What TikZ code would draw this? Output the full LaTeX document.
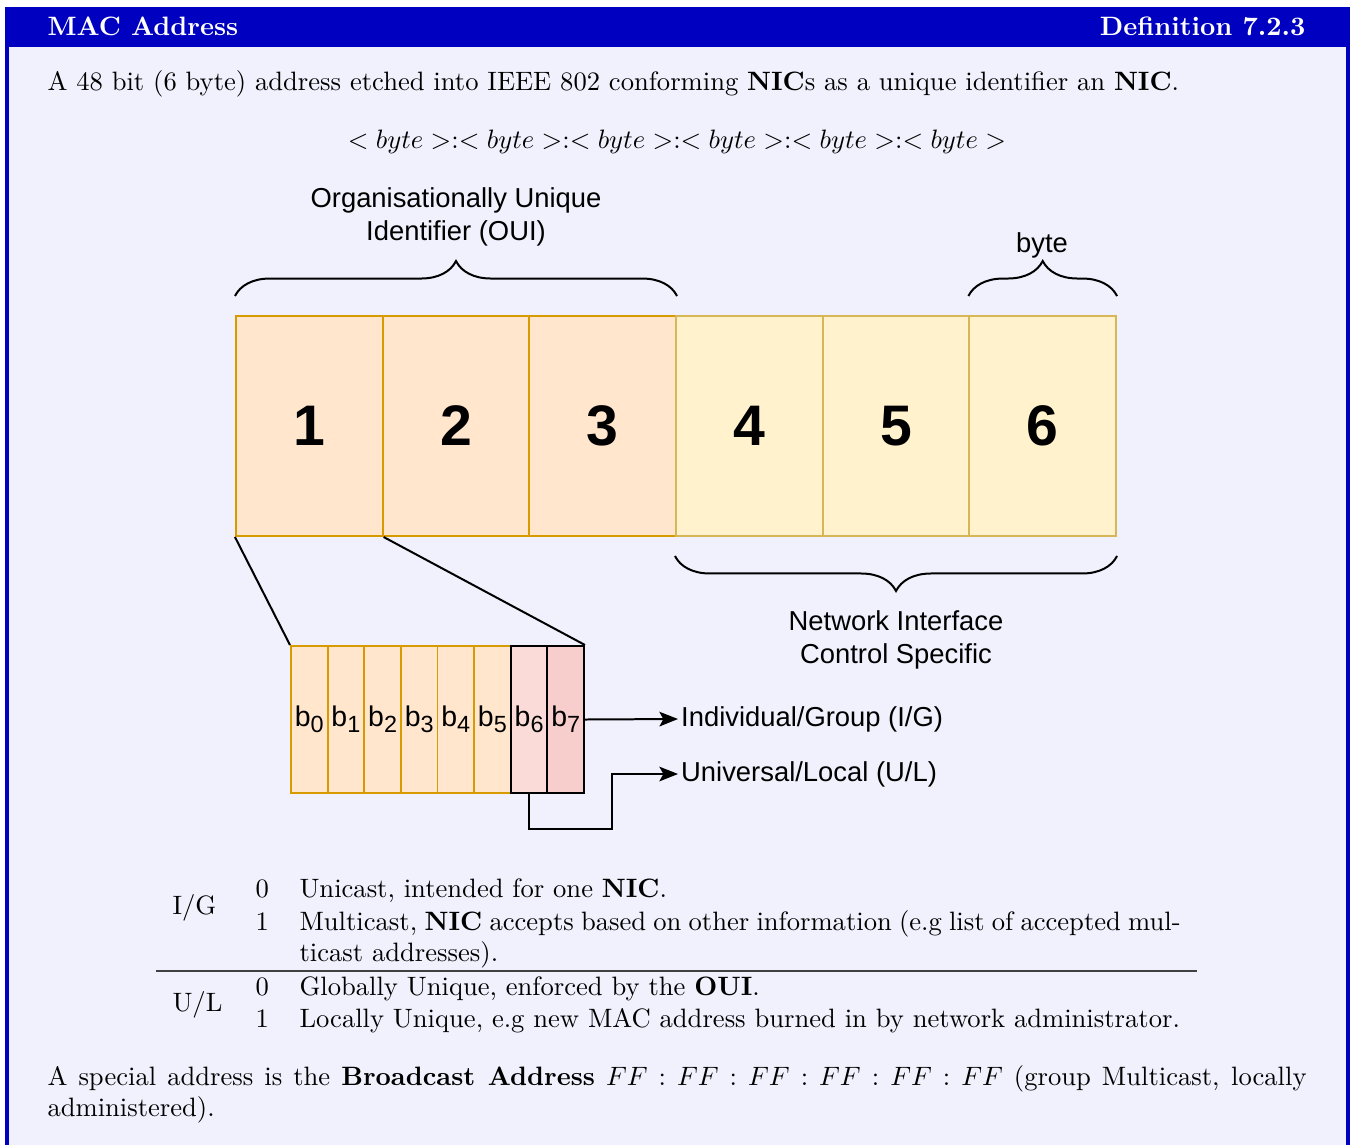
\documentclass[tikz,border=0pt]{standalone}
\usepackage{amsmath,amssymb}
\usepackage{fontspec}
\newfontfamily\drawfont{Liberation Sans}
\usetikzlibrary{arrows.meta,decorations.pathreplacing}

\definecolor{framebg}{RGB}{0,0,192}
\definecolor{boxbg}{RGB}{241,241,253}
\definecolor{ouifill}{HTML}{FFE6CC}
\definecolor{ouidraw}{HTML}{D79B00}
\definecolor{nicfill}{HTML}{FFF2CC}
\definecolor{nicdraw}{HTML}{D6B656}
\definecolor{ulfill}{HTML}{FADBD7}
\definecolor{igfill}{HTML}{F8CECC}

\newcommand{\bitname}[1]{b\raisebox{-0.4ex}{\fontsize{8.8}{9}\selectfont #1}}

\begin{document}
\begin{tikzpicture}[x=0.376pt, y=-0.376pt,
  bytebox/.style={draw, line width=0.75pt, minimum width=55.15pt, minimum height=82.72pt, inner sep=0pt, font=\drawfont\bfseries\fontsize{21.5}{26}\selectfont},
  bitbox/.style={draw, line width=0.75pt, minimum width=13.77pt, minimum height=55.27pt, inner sep=0pt, font=\drawfont\fontsize{10.7}{13}\selectfont},
  drawlabel/.style={align=center, inner sep=0pt, font=\drawfont\fontsize{10.3}{12.4}\selectfont},
  bracedeco/.style={decorate, decoration={brace, amplitude=13.16pt}, line width=0.75pt},
  arrowline/.style={line width=0.75pt, -{Stealth[length=7pt, width=5.5pt, inset=1.5pt]}},
  plaintext/.style={anchor=base west, inner sep=0pt}]
\useasboundingbox (0,0) rectangle (1350,1145);

% frame of the definition box
\fill[framebg] (5,7) rectangle (1350,1145);
\fill[boxbg] (9,47) rectangle (1346,1145);
\path (47,35) node[plaintext, text=white, font=\bfseries] (title) {MAC Address};
\path (1306,35) node[anchor=base east, inner sep=0pt, text=white, font=\bfseries] (defnum) {Definition 7.2.3};

\path (47,90) node[plaintext] (intro) {A 48 bit (6 byte) address etched into IEEE 802 conforming \textbf{NIC}s as a unique identifier an \textbf{NIC}.};
\path (677,148) node[anchor=base, inner sep=0pt] (macform) {$<byte>:<byte>:<byte>:<byte>:<byte>:<byte>$};

% the six bytes
\path (309.3,426) node[bytebox, fill=ouifill, draw=ouidraw] (byte1) {1};
\path (456,426) node[bytebox, fill=ouifill, draw=ouidraw] (byte2) {2};
\path (602.7,426) node[bytebox, fill=ouifill, draw=ouidraw] (byte3) {3};
\path (749.3,426) node[bytebox, fill=nicfill, draw=nicdraw] (byte4) {4};
\path (896,426) node[bytebox, fill=nicfill, draw=nicdraw] (byte5) {5};
\path (1042.7,426) node[bytebox, fill=nicfill, draw=nicdraw] (byte6) {6};

\draw[bracedeco] ([yshift=7.14pt]byte1.north west) -- ([yshift=7.14pt]byte3.north east);
\draw[bracedeco] ([yshift=7.14pt]byte6.north west) -- ([yshift=7.14pt]byte6.north east);
\draw[bracedeco] ([yshift=-7.14pt]byte6.south east) -- ([yshift=-7.14pt]byte4.south west);
\path (456,217) node[drawlabel] (ouilabel) {Organisationally Unique\\Identifier (OUI)};
\path (1042,245) node[drawlabel] (bytelabel) {byte};
\path (896,640) node[drawlabel] (niclabel) {Network Interface\\Control Specific};

% the bits of the first byte
\path (309.3,719.5) node[bitbox, fill=ouifill, draw=ouidraw] (bit0) {\bitname{0}};
\path (345.9,719.5) node[bitbox, fill=ouifill, draw=ouidraw] (bit1) {\bitname{1}};
\path (382.6,719.5) node[bitbox, fill=ouifill, draw=ouidraw] (bit2) {\bitname{2}};
\path (419.2,719.5) node[bitbox, fill=ouifill, draw=ouidraw] (bit3) {\bitname{3}};
\path (455.8,719.5) node[bitbox, fill=ouifill, draw=ouidraw] (bit4) {\bitname{4}};
\path (492.4,719.5) node[bitbox, fill=ouifill, draw=ouidraw] (bit5) {\bitname{5}};
\path (529.1,719.5) node[bitbox, fill=ulfill, draw=black] (bit6) {\bitname{6}};
\path (565.7,719.5) node[bitbox, fill=igfill, draw=black] (bit7) {\bitname{7}};

\draw[line width=0.75pt] (byte1.south west) -- (bit0.north west);
\draw[line width=0.75pt] (byte1.south east) -- (bit7.north east);

\path (678,719) node[drawlabel, anchor=west, inner sep=1pt] (iglabel) {Individual/Group (I/G)};
\path (678,774) node[drawlabel, anchor=west, inner sep=1pt] (ullabel) {Universal/Local (U/L)};
\coordinate (ulbend) at (612,829);
\draw[arrowline] (bit7.east) -- (iglabel.west);
\draw[arrowline] (bit6.south) |- (ulbend) |- (ullabel.west);

% table of the two flag bits
\path (172,914) node[plaintext] (igkey) {I/G};
\path (255,897) node[plaintext] (ig0) {0};
\path (299,897) node[plaintext] (ig0text) {Unicast, intended for one \textbf{NIC}.};
\path (255,930) node[plaintext] (ig1) {1};
\path (299,930) node[plaintext, text width=331.3pt, align=justify] (ig1text) {Multicast, \textbf{NIC} accepts based on other information (e.g list of accepted mul-\linebreak ticast addresses).};
\draw[line width=0.5pt, black!75] (156,971) -- (1197,971);
\path (172,1011) node[plaintext] (ulkey) {U/L};
\path (255,995) node[plaintext] (ul0) {0};
\path (299,995) node[plaintext] (ul0text) {Globally Unique, enforced by the \textbf{OUI}.};
\path (255,1027) node[plaintext] (ul1) {1};
\path (299,1027) node[plaintext] (ul1text) {Locally Unique, e.g new MAC address burned in by network administrator.};

\path (47,1085) node[plaintext, text width=473.4pt, align=justify] (broadcast) {A special address is the \textbf{Broadcast Address} $FF:FF:FF:FF:FF:FF$ (group Multicast, locally\linebreak administered).};
\end{tikzpicture}
\end{document}
